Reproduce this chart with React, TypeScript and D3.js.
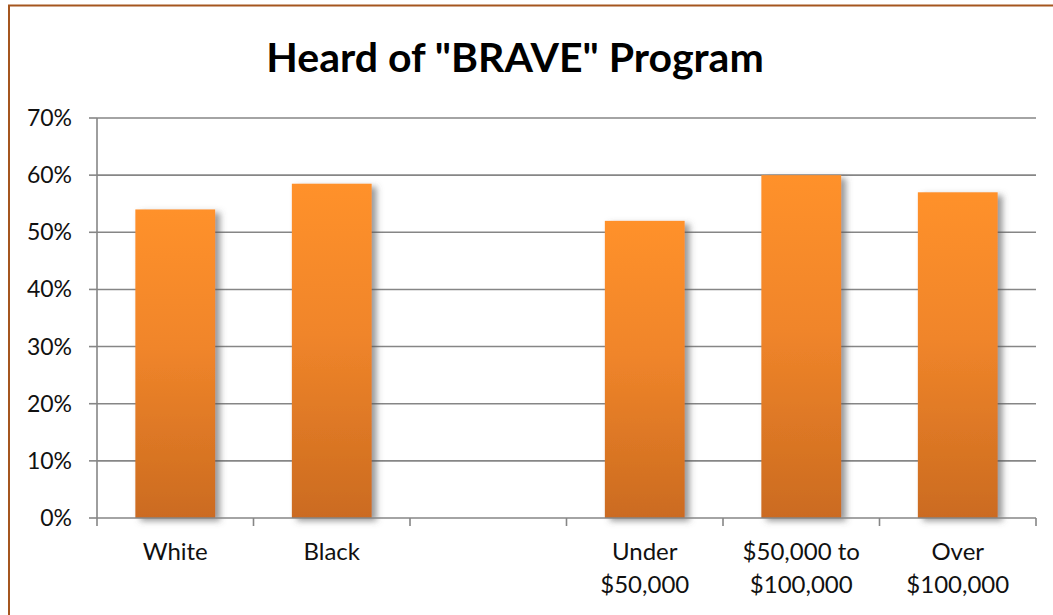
import React from 'react';
import * as d3 from 'd3';

// Chart data
const CATEGORIES = ['White', 'Black', 'gap', 'Under', 'Middle', 'Over'];
const CATEGORY_LABELS: string[][] = [
  ['White'],
  ['Black'],
  [],
  ['Under', '$50,000'],
  ['$50,000 to', '$100,000'],
  ['Over', '$100,000'],
];
const VALUES: (number | null)[] = [0.54, 0.585, null, 0.52, 0.60, 0.57];
const Y_TICKS = [0, 0.1, 0.2, 0.3, 0.4, 0.5, 0.6, 0.7];
const TITLE = 'Heard of "BRAVE" Program';

const W = 1053;
const H = 615;
const PLOT = { left: 97, right: 1036, top: 118, bottom: 518 };
const FONT = 'Lato, "Open Sans", sans-serif';
const AXIS = '#868686';

export default function App() {
  const x = d3.scaleBand<string>().domain(CATEGORIES).range([PLOT.left, PLOT.right]).padding(0);
  const y = d3.scaleLinear().domain([0, 0.7]).range([PLOT.bottom, PLOT.top]);
  const barW = x.bandwidth() * 0.51;
  const fmt = d3.format('.0%');
  const boundaries = [...CATEGORIES.map(c => x(c) as number), PLOT.right];

  return (
    <svg width={W} height={H} style={{ position: 'absolute', left: 0, top: 0, background: '#fff' }}>
      <defs>
        <linearGradient id="barGrad" x1="0" y1="0" x2="0" y2="1">
          <stop offset="0%" stopColor="#ff912c" />
          <stop offset="45%" stopColor="#f0852a" />
          <stop offset="100%" stopColor="#cb6b20" />
        </linearGradient>
        <filter id="shadow" x="-20%" y="-10%" width="150%" height="130%">
          <feDropShadow dx="5" dy="3" stdDeviation="3" floodColor="#555" floodOpacity="0.6" />
        </filter>
      </defs>

      {/* outer chart border */}
      <rect x={9} y={5.5} width={W + 20} height={H + 20} fill="#fff" stroke="#a5561f" strokeWidth={2} />

      <text x={515} y={72} textAnchor="middle" fontFamily={FONT} fontWeight="bold" fontSize={41} fill="#000">
        {TITLE}
      </text>

      {/* gridlines */}
      {Y_TICKS.slice(1).map(t => (
        <line key={t} x1={PLOT.left} x2={PLOT.right} y1={y(t)} y2={y(t)} stroke={AXIS} strokeWidth={1.6} />
      ))}

      {/* bars */}
      {CATEGORIES.map((c, i) => {
        const v = VALUES[i];
        if (v == null) return null;
        const bx = (x(c) as number) + (x.bandwidth() - barW) / 2;
        return (
          <rect key={c} x={bx} y={y(v)} width={barW} height={y(0) - y(v)} fill="url(#barGrad)" filter="url(#shadow)" />
        );
      })}

      {/* y axis */}
      <line x1={PLOT.left} x2={PLOT.left} y1={PLOT.top} y2={PLOT.bottom} stroke={AXIS} strokeWidth={1.6} />
      {Y_TICKS.map(t => (
        <g key={t}>
          <line x1={PLOT.left - 8} x2={PLOT.left} y1={y(t)} y2={y(t)} stroke={AXIS} strokeWidth={1.6} />
          <text x={72} y={y(t)} dy="0.35em" textAnchor="end" fontFamily={FONT} fontSize={23} fill="#111">
            {fmt(t)}
          </text>
        </g>
      ))}

      {/* x axis */}
      <line x1={PLOT.left} x2={PLOT.right} y1={PLOT.bottom} y2={PLOT.bottom} stroke={AXIS} strokeWidth={1.6} />
      {boundaries.map((b, i) => (
        <line key={i} x1={b} x2={b} y1={PLOT.bottom} y2={PLOT.bottom + 8} stroke={AXIS} strokeWidth={1.6} />
      ))}
      {CATEGORIES.map((c, i) => (
        <text key={c} textAnchor="middle" fontFamily={FONT} fontSize={24} fill="#111">
          {CATEGORY_LABELS[i].map((line, li) => (
            <tspan key={li} x={(x(c) as number) + x.bandwidth() / 2} y={560 + li * 33}>
              {line}
            </tspan>
          ))}
        </text>
      ))}
    </svg>
  );
}
